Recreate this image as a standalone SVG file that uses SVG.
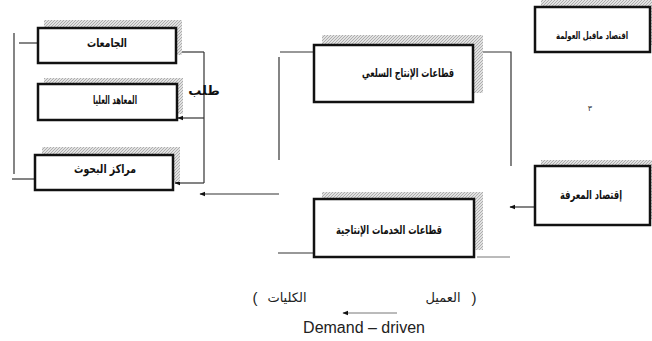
<svg xmlns="http://www.w3.org/2000/svg" width="652" height="341" viewBox="0 0 652 341">
<style>
.shadow{fill:url(#hatch);}
.box{fill:#fff;stroke:#111;stroke-width:2.5;}
.lbl{font-family:'DejaVu Sans',sans-serif;font-size:12px;font-weight:bold;fill:#111;text-anchor:middle;dominant-baseline:central;}
.ln{fill:none;stroke:#333;stroke-width:1.2;}
.lnl{fill:none;stroke:#777;stroke-width:1;}
.txt{font-family:'DejaVu Sans',sans-serif;font-size:13px;fill:#222;text-anchor:middle;}
.par{font-family:'Liberation Sans',Arial,sans-serif;font-size:15px;fill:#222;text-anchor:middle;}
</style>
<defs>
<pattern id="hatch" width="3" height="3" patternUnits="userSpaceOnUse">
<rect width="3" height="3" fill="#e2e2e2"/>
<path d="M0 3 L3 0" stroke="#8a8a8a" stroke-width="0.6"/>
</pattern>
<marker id="ah" viewBox="0 0 10 10" refX="9" refY="5" markerWidth="6" markerHeight="6" orient="auto" markerUnits="userSpaceOnUse">
<path d="M0 1 L10 5 L0 9 Z" fill="#111"/>
</marker>
</defs>

<g id="connectors">
<path class="ln" d="M14 33 V174"/>
<path class="ln" d="M19 43 H37"/>
<path class="ln" d="M12 179 H35"/>
<path class="ln" d="M204 52 V183"/>
<path class="ln" d="M204 52 H177" marker-end="url(#ah)"/>
<path class="ln" d="M204 118 H178" marker-end="url(#ah)"/>
<path class="ln" d="M204 183 H175" marker-end="url(#ah)"/>
<path class="ln" d="M280 52 H314"/>
<path class="ln" d="M279 57 V160"/>
<path class="ln" d="M279 194 H200" marker-end="url(#ah)"/>
<path class="ln" d="M278 253 H313"/>
<path class="ln" d="M480 52 H511 V166"/>
<path class="lnl" d="M477 257 H510"/>
<path class="ln" d="M534 207 H510" marker-end="url(#ah)"/>
<path class="lnl" d="M397 313 H343" marker-end="url(#ah)"/>
</g>

<g id="n-universities">
<rect class="shadow" x="44" y="20" width="138" height="35"/>
<rect class="box" x="38" y="28" width="138" height="35"/>
<text class="lbl" x="107" y="43" textLength="40" lengthAdjust="spacingAndGlyphs">الجامعات</text>
</g>

<g id="n-institutes">
<rect class="shadow" x="44" y="78" width="139" height="36"/>
<rect class="box" x="38" y="84" width="139" height="36"/>
<text class="lbl" x="115" y="100" textLength="44" lengthAdjust="spacingAndGlyphs">المعاهد العليا</text>
</g>

<g id="n-research">
<rect class="shadow" x="42" y="147" width="138" height="35"/>
<rect class="box" x="35" y="155" width="138" height="35"/>
<text class="lbl" x="105" y="169" textLength="62" lengthAdjust="spacingAndGlyphs">مراكز البحوث</text>
</g>

<g id="n-goods">
<rect class="shadow" x="322" y="35" width="161" height="58"/>
<rect class="box" x="314" y="45" width="159" height="57"/>
<text class="lbl" x="408" y="73" textLength="92" lengthAdjust="spacingAndGlyphs">قطاعات الإنتاج السلعي</text>
</g>

<g id="n-services">
<rect class="shadow" x="322" y="192" width="161" height="58"/>
<rect class="box" x="314" y="199" width="160" height="58"/>
<text class="lbl" x="389" y="230" textLength="106" lengthAdjust="spacingAndGlyphs">قطاعات الخدمات الإنتاجية</text>
</g>

<g id="n-preglobal">
<rect class="shadow" x="541" y="0" width="111" height="45"/>
<rect class="box" x="535" y="7" width="115" height="45"/>
<text class="lbl" x="592" y="35" style="font-size:10px" textLength="72" lengthAdjust="spacingAndGlyphs">اقتصاد ماقبل العولمة</text>
</g>

<g id="n-knowledge">
<rect class="shadow" x="541" y="160" width="111" height="59"/>
<rect class="box" x="535" y="166" width="115" height="59"/>
<text class="lbl" x="591" y="195" textLength="62" lengthAdjust="spacingAndGlyphs">إقتصاد المعرفة</text>
</g>

<g id="labels">
<text x="204" y="95" font-family="'DejaVu Sans',sans-serif" font-size="13" font-weight="bold" text-anchor="middle" fill="#111">طلب</text>
<text x="590" y="111" font-family="'DejaVu Sans',sans-serif" font-size="8" text-anchor="middle" fill="#333">٣</text>
<text class="par" x="255" y="303">(</text>
<text class="txt" x="287" y="302">الكليات</text>
<text class="txt" x="443" y="302">العميل</text>
<text class="par" x="474" y="303">)</text>
<text x="364" y="333" font-family="'Liberation Sans',Arial,sans-serif" font-size="16" text-anchor="middle" fill="#222">Demand – driven</text>
</g>
</svg>
